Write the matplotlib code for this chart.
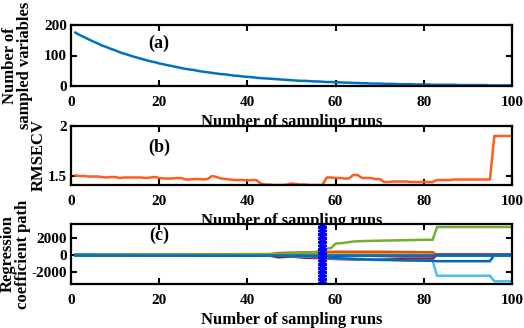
import matplotlib
matplotlib.use("Agg")
import matplotlib.pyplot as plt
import numpy as np

# ---------------- data ----------------
runs = list(range(1, 101))

n_vars = [175, 167, 160, 153, 146, 140, 133, 128, 122, 117,
          111, 106, 102, 97, 93, 89, 85, 81, 78, 74,
          71, 68, 65, 62, 59, 56, 54, 52, 49, 47,
          45, 43, 41, 39, 38, 36, 34, 33, 31, 30,
          29, 27, 26, 25, 24, 23, 22, 21, 20, 19,
          18, 17, 17, 16, 15, 15, 14, 13, 13, 12,
          12, 11, 11, 10, 10, 9, 9, 8, 8, 8,
          7, 7, 7, 6, 6, 6, 6, 5, 5, 5,
          5, 4, 4, 4, 4, 4, 4, 3, 3, 3,
          3, 3, 3, 3, 2, 2, 2, 2, 2, 2]

rmsecv = [1.505, 1.50, 1.50, 1.495, 1.495, 1.495, 1.49, 1.485, 1.49, 1.49,
          1.48, 1.485, 1.485, 1.485, 1.485, 1.485, 1.48, 1.485, 1.49, 1.48,
          1.475, 1.475, 1.475, 1.48, 1.48, 1.465, 1.465, 1.47, 1.47, 1.465,
          1.47, 1.50, 1.49, 1.475, 1.47, 1.465, 1.46, 1.46, 1.46, 1.455,
          1.46, 1.46, 1.425, 1.415, 1.415, 1.41, 1.41, 1.41, 1.415, 1.425,
          1.42, 1.415, 1.415, 1.41, 1.41, 1.41, 1.41, 1.485, 1.485, 1.48,
          1.48, 1.475, 1.475, 1.51, 1.51, 1.48, 1.48, 1.48, 1.47, 1.47,
          1.44, 1.44, 1.445, 1.445, 1.445, 1.445, 1.44, 1.44, 1.44, 1.44,
          1.44, 1.44, 1.46, 1.46, 1.46, 1.46, 1.465, 1.465, 1.465, 1.465,
          1.465, 1.465, 1.465, 1.465, 1.465, 1.90, 1.90, 1.90, 1.90, 1.90]

# regression coefficient paths (breakpoints: run, coefficient)
blue_x = [1, 100]
blue_y = [0, 0]
yellow_x = [1, 45, 50, 57, 60, 70, 82, 83, 100]
yellow_y = [0, 100, 150, 100, 50, 100, 100, 0, 0]
purple_x = [1, 45, 50, 57, 62, 82, 83, 100]
purple_y = [0, -50, -200, -150, -100, -150, 0, 0]
orange_x = [1, 45, 47, 50, 55, 60, 70, 82, 83, 100]
orange_y = [0, 50, 200, 250, 300, 350, 350, 300, 0, 0]
red_x = [1, 45, 47, 50, 53, 57, 60, 65, 70, 75, 82, 83, 100]
red_y = [0, -100, -300, -200, -350, -400, -500, -550, -500, -450, -450, 0, 0]
dblue_x = [1, 50, 57, 60, 65, 70, 82, 83, 95, 96, 100]
dblue_y = [0, -100, -250, -400, -500, -600, -700, -750, -750, 0, 0]
lblue_x = [1, 45, 50, 57, 60, 65, 70, 75, 82, 83, 95, 96, 100]
lblue_y = [0, -50, -150, -300, -450, -500, -550, -650, -700, -2450, -2450, -3100, -3100]
green_x = [1, 45, 50, 55, 57, 58, 59, 60, 62, 64, 66, 70, 75, 80, 82, 83, 100]
green_y = [0, 50, 150, 300, 500, 700, 800, 1300, 1400, 1550, 1600, 1650, 1700, 1750, 1750, 3250, 3250]
optimal_run = 57

xticks = [0, 20, 40, 60, 80, 100]

# ---------------- style ----------------
FONT = ["Liberation Serif", "DejaVu Serif"]
plt.rcParams['font.family'] = FONT
plt.rcParams['font.weight'] = 'bold'
plt.rcParams['font.size'] = 11
plt.rcParams['axes.unicode_minus'] = False

fig = plt.figure(figsize=(5.24, 3.28), dpi=100)
W, H = 524, 328
left, right = 71, 512


def make_ax(top, bottom, z):
    ax = fig.add_axes([left / W, 1 - bottom / H, (right - left) / W, (bottom - top) / H])
    ax.set_zorder(z)
    return ax


ax_a = make_ax(25, 86, 1)
ax_b = make_ax(126, 185, 2)
ax_c = make_ax(224, 284, 3)

for ax in (ax_a, ax_b, ax_c):
    ax.set_xlim(0, 100)
    ax.set_xticks(xticks)
    ax.tick_params(direction='in', top=True, right=True, length=4, width=1.5,
                   labelsize=11)
    ax.tick_params(axis='x', pad=7)
    ax.tick_params(axis='y', pad=3)
    for s in ax.spines.values():
        s.set_linewidth(1.6)
    for lab in ax.get_xticklabels() + ax.get_yticklabels():
        lab.set_fontweight('bold')
    ax.set_xlabel('Number of sampling runs', fontsize=12, fontweight='bold', labelpad=4)

# (a)
ax_a.plot(runs, n_vars, color=(0, 0.447, 0.741), lw=1.8)
ax_a.set_ylim(0, 200)
ax_a.set_yticks([0, 100, 200])
ax_a.set_ylabel('Number of\nsampled variables', fontsize=12, fontweight='bold',
                linespacing=0.95)
ax_a.yaxis.set_label_coords(-0.086, 0.33)
ax_a.text(20, 140, '(a)', fontsize=13, fontweight='bold', ha='center', va='center')

# (b)
ax_b.plot(runs, rmsecv, color=(1.0, 0.36, 0.12), lw=1.8)
ax_b.set_ylim(1.41, 2.0)
ax_b.set_yticks([1.5, 2.0])
ax_b.set_yticklabels(['1.5', '2'])
ax_b.set_ylabel('RMSECV', fontsize=12, fontweight='bold')
ax_b.yaxis.set_label_coords(-0.054, 0.5)
ax_b.text(20, 1.79, '(b)', fontsize=13, fontweight='bold', ha='center', va='center')

# (c)
paths = [
    (blue_x, blue_y, (0, 0.447, 0.741)),
    (yellow_x, yellow_y, (0.929, 0.694, 0.125)),
    (purple_x, purple_y, (0.494, 0.184, 0.556)),
    (orange_x, orange_y, (0.85, 0.325, 0.098)),
    (red_x, red_y, (0.635, 0.078, 0.184)),
    (lblue_x, lblue_y, (0.301, 0.745, 0.933)),
    (dblue_x, dblue_y, (0.0, 0.40, 0.72)),
    (green_x, green_y, (0.466, 0.674, 0.188)),
]
for xs, ys, col in paths:
    ax_c.plot(xs, ys, color=col, lw=1.8)
ax_c.plot(blue_x, blue_y, color=(0, 0.447, 0.741), lw=1.8)
ax_c.set_ylim(-3420, 3600)
ax_c.set_yticks([-2000, 0, 2000])
ylo, yhi = ax_c.get_ylim()
marker_y = np.linspace(ylo, yhi, 45)
ax_c.plot(np.full_like(marker_y, optimal_run), marker_y, color=(0, 0, 1), lw=1,
          marker='*', markersize=6, markeredgewidth=0.8, clip_on=True)
ax_c.set_ylabel('Regression\ncoefficient path', fontsize=12, fontweight='bold',
                linespacing=0.95)
ax_c.yaxis.set_label_coords(-0.091, 0.5)
ax_c.text(20, 2300, '(c)', fontsize=13, fontweight='bold', ha='center', va='center')

fig.savefig('out.png', dpi=100)
